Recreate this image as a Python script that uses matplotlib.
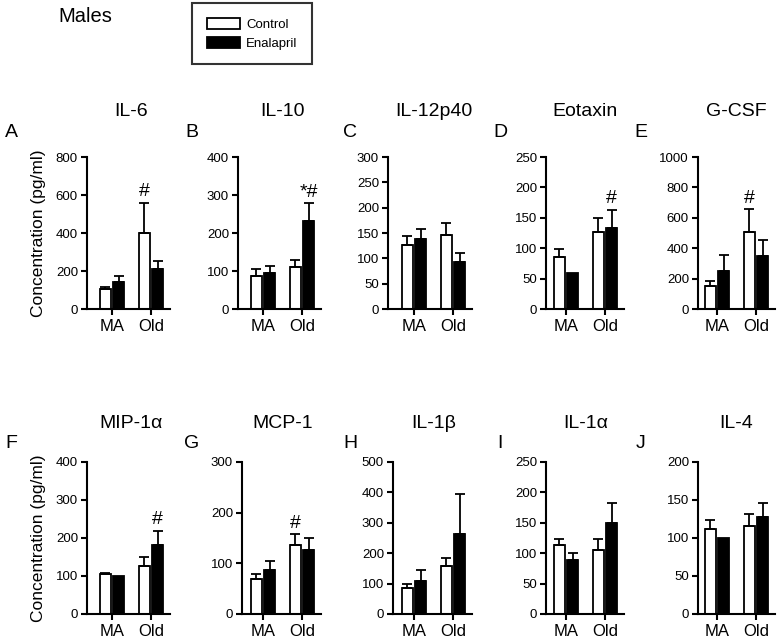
import matplotlib
matplotlib.use("Agg")
import matplotlib.pyplot as plt
from matplotlib.patches import Patch

plt.rcParams['font.family'] = ['Liberation Sans', 'DejaVu Sans']

# --- data ---
groups = ['MA', 'Old']
letters = ['A', 'B', 'C', 'D', 'E', 'F', 'G', 'H', 'I', 'J']
cytokines = ['IL-6', 'IL-10', 'IL-12p40', 'Eotaxin', 'G-CSF',
             'MIP-1α', 'MCP-1', 'IL-1β', 'IL-1α', 'IL-4']
y_max = [800, 400, 300, 250, 1000, 400, 300, 500, 250, 200]
y_step = [200, 100, 50, 50, 200, 100, 100, 100, 50, 50]

control_mean = [[105, 400], [88, 111], [126, 146], [86, 126], [154, 505],
                [105, 127], [69, 137], [86, 159], [113, 106], [112, 116]]
control_err = [[11, 158], [16, 18], [18, 24], [13, 24], [31, 150],
               [2, 22], [10, 20], [13, 25], [10, 17], [12, 16]]
enalapril_mean = [[140, 210], [95, 232], [139, 93], [59, 133], [248, 347],
                  [101, 182], [86, 127], [110, 264], [88, 150], [100, 128]]
enalapril_err = [[32, 44], [18, 46], [19, 18], [0, 30], [108, 110],
                 [0, 36], [18, 23], [36, 131], [12, 33], [0, 18]]
control_sig = [['', '#'], ['', ''], ['', ''], ['', ''], ['', '#'],
               ['', ''], ['', '#'], ['', ''], ['', ''], ['', '']]
enalapril_sig = [['', ''], ['', '*#'], ['', ''], ['', '#'], ['', ''],
                 ['', '#'], ['', ''], ['', ''], ['', ''], ['', '']]

# --- layout in pixels ---
W, H = 780, 644
fig = plt.figure(figsize=(W / 100, H / 100), dpi=100)

yaxis_px = [87, 238, 388, 546, 698, 87, 242, 393, 546, 698]
tick1_px = [112, 263, 414, 566, 717]
letter_px = [11, 192, 350, 500, 641]
row_bottom = [309, 614]
row_top = [157, 462]
title_y = [112, 423]
letter_y = [132, 443]
spacing = 39.0
right_pad = 19.0
bw = 0.28
off = 0.175

for i in range(10):
    row, col = divmod(i, 5)
    L = yaxis_px[i]
    T1 = tick1_px[col]
    R = T1 + spacing + right_pad
    ax = fig.add_axes([L / W, 1 - row_bottom[row] / H, (R - L) / W,
                       (row_bottom[row] - row_top[row]) / H])
    ax.set_xlim(-(T1 - L) / spacing, 1 + right_pad / spacing)
    ax.set_ylim(0, y_max[i])

    for g in range(2):
        for x, m, e, fc, sig in [(g - off, control_mean[i][g], control_err[i][g], 'white', control_sig[i][g]),
                                 (g + off, enalapril_mean[i][g], enalapril_err[i][g], 'black', enalapril_sig[i][g])]:
            ax.bar(x, m, width=bw, color=fc, edgecolor='black', linewidth=1.3, zorder=2)
            if e > 0:
                ax.errorbar(x, m, yerr=[[0], [e]], fmt='none', ecolor='black',
                            elinewidth=1.3, capsize=3.5, capthick=1.3, zorder=3)
            if sig:
                ax.annotate(sig, (x, m + e), xytext=(0, 2), textcoords='offset points',
                            ha='center', va='bottom', fontsize=14)

    ax.set_xticks([0, 1])
    ax.set_xticklabels(groups, fontsize=12)
    ax.set_yticks(range(0, y_max[i] + 1, y_step[i]))
    ax.tick_params(axis='y', labelsize=9.5, length=4.5, width=1.5, pad=2)
    ax.tick_params(axis='x', length=4.5, width=1.5, pad=3)
    for s in ['top', 'right']:
        ax.spines[s].set_visible(False)
    for s in ['left', 'bottom']:
        ax.spines[s].set_linewidth(1.5)

    fig.text((T1 + spacing / 2) / W, 1 - title_y[row] / H, cytokines[i],
             ha='center', va='center', fontsize=14)
    fig.text(letter_px[col] / W, 1 - letter_y[row] / H, letters[i],
             ha='center', va='center', fontsize=14)

for row in range(2):
    fig.text(39 / W, 1 - (row_top[row] + row_bottom[row]) / 2 / H,
             'Concentration (pg/ml)', rotation=90, ha='center', va='center', fontsize=12.5)

fig.text(58 / W, 1 - 17 / H, 'Males', ha='left', va='center', fontsize=14.5)

handles = [Patch(facecolor='white', edgecolor='black', linewidth=1.3, label='Control'),
           Patch(facecolor='black', edgecolor='black', linewidth=1.3, label='Enalapril')]
leg = fig.legend(handles=handles, loc='upper left', bbox_to_anchor=(192 / W, 1 - 3 / H),
                 fontsize=9.5, frameon=True, fancybox=False, handlelength=2.5,
                 handleheight=0.95, labelspacing=0.45, borderpad=1.1, handletextpad=0.5,
                 borderaxespad=0)
leg.get_frame().set_edgecolor('black')
leg.get_frame().set_linewidth(1.5)

fig.savefig('out.png', dpi=100)
